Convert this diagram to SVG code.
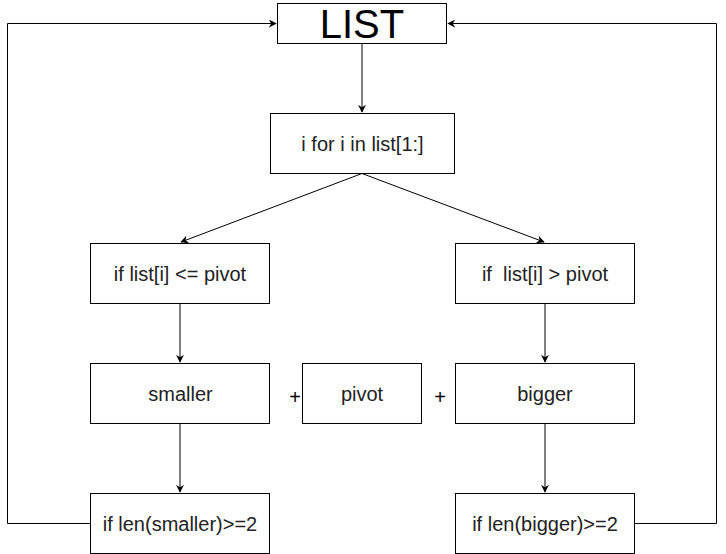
<svg xmlns="http://www.w3.org/2000/svg" width="726" height="554" viewBox="0 0 726 554">
<defs>
<marker id="ah" viewBox="0 0 10 10" refX="9" refY="5" markerWidth="8" markerHeight="8" markerUnits="userSpaceOnUse" orient="auto">
<path d="M0,0 L10,5 L0,10 L3,5 z" fill="#000"/>
</marker>
<style>
.box{fill:#fff;stroke:#000;stroke-width:1}
.t{font-family:"Liberation Sans",Arial,sans-serif;font-size:20px;fill:#222;text-anchor:middle;dominant-baseline:central}
.c{fill:none;stroke:#000;stroke-width:1}
</style>
</defs>
<rect width="726" height="554" fill="#fff"/>
<g id="connectors">
<path class="c" d="M362,43.5 L362,112" marker-end="url(#ah)"/>
<path class="c" d="M362,173.5 L181,242" marker-end="url(#ah)"/>
<path class="c" d="M362,173.5 L544,242" stroke="#555" marker-end="url(#ah)"/>
<path class="c" d="M180,303.5 L180,362" marker-end="url(#ah)"/>
<path class="c" d="M545,303.5 L545,362" marker-end="url(#ah)"/>
<path class="c" d="M180,423.5 L180,492" marker-end="url(#ah)"/>
<path class="c" d="M545,423.5 L545,492" marker-end="url(#ah)"/>
<path class="c" d="M90,523.5 L7.5,523.5 L7.5,23.5 L276,23.5" marker-end="url(#ah)"/>
<path class="c" d="M635,523.5 L716.5,523.5 L716.5,23.5 L448,23.5" marker-end="url(#ah)"/>
</g>
<g id="list"><rect class="box" x="277.5" y="3.5" width="169" height="40"/><text class="t" x="362" y="24" style="font-size:40px;fill:#000">LIST</text></g>
<g id="iter"><rect class="box" x="270.5" y="113.5" width="184" height="60"/><text class="t" x="362.5" y="143.5">i for i in list[1:]</text></g>
<g id="cond-left"><rect class="box" x="90.5" y="243.5" width="179" height="60"/><text class="t" x="180" y="273.5">if list[i] &lt;= pivot</text></g>
<g id="cond-right"><rect class="box" x="455.5" y="243.5" width="179" height="60"/><text class="t" x="545" y="273.5" xml:space="preserve">if  list[i] &gt; pivot</text></g>
<g id="smaller"><rect class="box" x="90.5" y="363.5" width="179" height="60"/><text class="t" x="180.5" y="393.5">smaller</text></g>
<g id="pivot"><rect class="box" x="302.5" y="363.5" width="119" height="60"/><text class="t" x="362" y="393.5">pivot</text></g>
<g id="bigger"><rect class="box" x="455.5" y="363.5" width="179" height="60"/><text class="t" x="545" y="393.5">bigger</text></g>
<g id="plus1"><text class="t" x="295" y="397" style="fill:#000">+</text></g>
<g id="plus2"><text class="t" x="440" y="397" style="fill:#000">+</text></g>
<g id="len-smaller"><rect class="box" x="90.5" y="493.5" width="179" height="60"/><text class="t" x="180" y="523.5">if len(smaller)&gt;=2</text></g>
<g id="len-bigger"><rect class="box" x="455.5" y="493.5" width="179" height="60"/><text class="t" x="545" y="523.5">if len(bigger)&gt;=2</text></g>
</svg>
